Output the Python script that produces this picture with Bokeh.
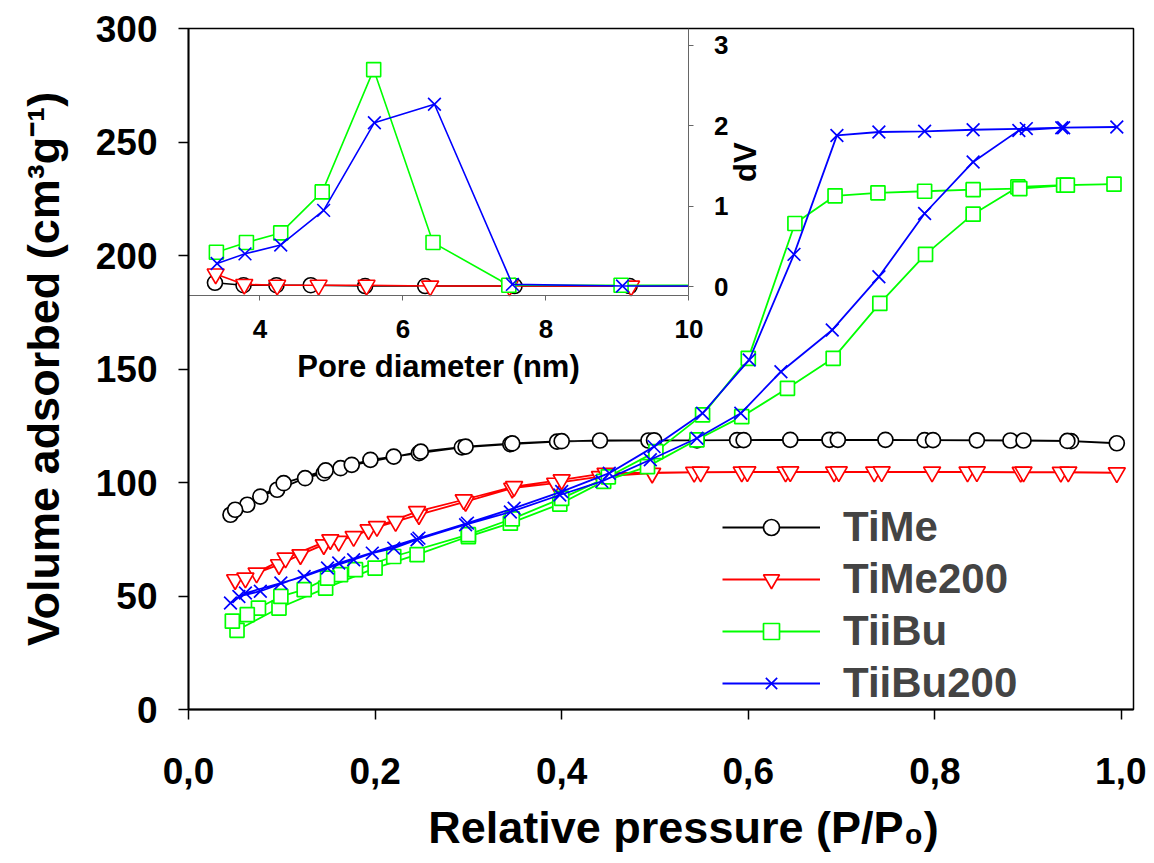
import math
from bokeh.plotting import figure
from bokeh.models import (Range1d, LinearAxis, FixedTicker, CustomJSTickFormatter,
                          Legend, LegendItem, Label)
from bokeh.embed import file_html
from bokeh.resources import INLINE

# ---------------- data: N2 isotherms (main plot) ----------------
series_names = ["TiMe", "TiMe200", "TiiBu", "TiiBu200"]
x_ticks = [0.0, 0.2, 0.4, 0.6, 0.8, 1.0]
y_ticks = [0, 50, 100, 150, 200, 250, 300]

time_ads_p = [0.045, 0.063, 0.077, 0.095, 0.125, 0.145, 0.163, 0.175, 0.195, 0.220, 0.247,
              0.293, 0.345, 0.395, 0.441, 0.493, 0.545, 0.588, 0.645, 0.687, 0.747, 0.789,
              0.845, 0.881, 0.946, 0.995]
time_ads_v = [85.8, 90.2, 93.8, 96.8, 101.9, 104.1, 106.3, 107.8, 110.0, 111.4, 112.9,
              115.5, 116.9, 118.0, 118.5, 118.5, 118.6, 118.7, 118.8, 118.8, 118.8, 118.7,
              118.6, 118.5, 118.2, 117.3]
time_des_p = [0.942, 0.895, 0.798, 0.696, 0.595, 0.499, 0.400, 0.347, 0.297, 0.249, 0.147,
              0.102, 0.050]
time_des_v = [118.3, 118.5, 118.7, 118.8, 118.7, 118.6, 118.2, 117.2, 115.8, 113.6, 105.3,
              99.7, 88.0]

time200_ads_p = [0.050, 0.073, 0.097, 0.120, 0.145, 0.161, 0.193, 0.222, 0.247, 0.297, 0.347,
                 0.393, 0.441, 0.497, 0.542, 0.593, 0.640, 0.692, 0.735, 0.797, 0.835, 0.892,
                 0.935, 0.995]
time200_ads_v = [57.2, 60.1, 63.8, 68.2, 72.6, 74.1, 79.2, 82.8, 85.8, 91.6, 97.5,
                 99.7, 102.6, 104.1, 104.5, 104.6, 104.6, 104.6, 104.6, 104.6, 104.6, 104.5,
                 104.5, 104.3]
time200_des_p = [0.943, 0.895, 0.845, 0.743, 0.697, 0.645, 0.599, 0.549, 0.447, 0.400, 0.349,
                 0.295, 0.245, 0.202, 0.177, 0.152, 0.104, 0.061]
time200_des_v = [104.6, 104.6, 104.7, 104.7, 104.7, 104.7, 104.7, 104.6, 104.1, 101.2, 98.2,
                 92.4, 87.2, 80.6, 76.2, 74.8, 66.7, 57.9]

tiibu_ads_p = [0.052, 0.097, 0.147, 0.200, 0.245, 0.300, 0.345, 0.398, 0.445, 0.492, 0.545,
               0.593, 0.642, 0.691, 0.741, 0.790, 0.841, 0.889, 0.938, 0.992]
tiibu_ads_v = [34.9, 44.7, 53.5, 62.3, 68.2, 76.2, 82.1, 90.5, 100.5, 107.0, 118.8,
               129.0, 141.5, 154.7, 178.9, 200.5, 218.2, 230.2, 231.0, 231.4]
tiibu_des_p = [0.942, 0.891, 0.841, 0.789, 0.739, 0.693, 0.650, 0.600, 0.551, 0.501, 0.450,
               0.400, 0.347, 0.300, 0.220, 0.179, 0.163, 0.149, 0.124, 0.099, 0.075, 0.063,
               0.047]
tiibu_des_v = [231.0, 229.5, 229.0, 228.3, 227.6, 226.3, 214.1, 154.7, 129.8, 113.6, 102.5,
               93.0, 84.0, 77.0, 67.4, 61.6, 59.4, 57.9, 52.8, 49.8, 44.7, 41.8, 38.9]

tiibu200_ads_p = [0.045, 0.061, 0.099, 0.124, 0.149, 0.177, 0.197, 0.220, 0.245, 0.297, 0.345,
                  0.398, 0.443, 0.495, 0.545, 0.592, 0.635, 0.690, 0.740, 0.789, 0.841, 0.890,
                  0.938, 0.995]
tiibu200_ads_v = [46.9, 51.3, 55.7, 58.6, 62.3, 66.0, 68.9, 71.1, 74.8, 81.4, 87.0,
                  94.5, 100.5, 110.0, 119.5, 130.5, 148.8, 167.2, 190.6, 218.5, 241.2, 255.1,
                  256.3, 256.6]
tiibu200_des_p = [0.936, 0.898, 0.841, 0.789, 0.740, 0.695, 0.649, 0.601, 0.551, 0.499, 0.451,
                  0.400, 0.349, 0.299, 0.247, 0.161, 0.077, 0.054]
tiibu200_des_v = [256.3, 255.9, 255.4, 254.7, 254.4, 252.9, 200.5, 154.0, 130.5, 115.8, 104.1,
                  96.0, 88.7, 82.1, 75.5, 64.5, 52.1, 49.8]

# ---------------- data: pore size distribution (inset) ----------------
inset_x_ticks = [4, 6, 8, 10]
inset_y_ticks = [0, 1, 2, 3]
pore_time = [3.37, 3.77, 4.23, 4.71, 5.47, 6.31, 7.56, 9.17]
dv_time = [0.05, 0.02, 0.02, 0.02, 0.01, 0.01, 0.01, 0.01]
pore_time200 = [3.38, 3.78, 4.24, 4.82, 5.49, 6.38, 7.49, 9.19]
dv_time200 = [0.16, 0.03, 0.02, 0.02, 0.02, 0.01, 0.01, 0.01]
pore_tiibu = [3.39, 3.81, 4.29, 4.87, 5.59, 6.42, 7.48, 9.05]
dv_tiibu = [0.43, 0.55, 0.67, 1.18, 2.70, 0.55, 0.02, 0.02]
pore_tiibu200 = [3.40, 3.79, 4.29, 4.89, 5.60, 6.44, 7.53, 9.07]
dv_tiibu200 = [0.29, 0.41, 0.52, 0.95, 2.04, 2.27, 0.03, 0.01]
pore_edge = 10.0  # curves run on to the right edge of the inset

# ---------------- styles ----------------
colors = ["#000000", "#ff0000", "#00ff00", "#0000ff"]
markers = ["circle", "inverted_triangle", "square", "x"]
sizes = [15, 17, 14, 18]
FONT = "Liberation Sans"

p = figure(width=1146, height=855, output_backend="svg", toolbar_location=None,
           x_range=Range1d(0, 1.0129), y_range=Range1d(0, 300),
           min_border_left=188, min_border_right=13, min_border_top=28,
           min_border_bottom=145)
p.xgrid.visible = False
p.ygrid.visible = False
p.outline_line_color = "black"
p.outline_line_width = 1.5
p.background_fill_color = "white"
p.border_fill_color = "white"

xa = p.below[0]
ya = p.left[0]
xa.ticker = FixedTicker(ticks=x_ticks)
xa.formatter = CustomJSTickFormatter(code="return tick.toFixed(1).replace('.', ',')")
ya.ticker = FixedTicker(ticks=y_ticks)
for ax in (xa, ya):
    ax.major_tick_out = 10
    ax.major_tick_in = 0
    ax.minor_tick_line_color = None
    ax.axis_line_width = 1.8
    ax.axis_line_color = "black"
    ax.major_tick_line_width = 1.5
    ax.major_tick_line_color = "black"
    ax.major_label_text_font = FONT
    ax.major_label_text_font_style = "bold"
    ax.major_label_text_font_size = "37px"
    ax.major_label_text_color = "black"
    ax.axis_label_text_font = FONT
    ax.axis_label_text_font_style = "bold"
    ax.axis_label_text_font_size = "45px"
    ax.axis_label_text_color = "black"
xa.axis_label = "\u2003Relative pressure (P/P\u2080)"
ya.axis_label = "Volume adsorbed (cm\u00b3g\u207b\u00b9)"
xa.major_label_standoff = 38
xa.axis_label_standoff = 15
ya.major_label_standoff = 21
ya.axis_label_standoff = 24

# ---------------- main isotherms ----------------
main_sets = [
    (time_ads_p + time_des_p, time_ads_v + time_des_v),
    (time200_ads_p + time200_des_p, time200_ads_v + time200_des_v),
    (tiibu_ads_p + tiibu_des_p, tiibu_ads_v + tiibu_des_v),
    (tiibu200_ads_p + tiibu200_des_p, tiibu200_ads_v + tiibu200_des_v),
]
items = []
for name, (xs, ys), c, m, s in zip(series_names, main_sets, colors, markers, sizes):
    rl = p.line(xs, ys, line_color=c, line_width=1.8)
    rs = p.scatter(xs, ys, marker=m, size=s, line_color=c, fill_color="white",
                   line_width=1.7)
    items.append(LegendItem(label=name, renderers=[rl, rs]))

legend = Legend(items=items, location=(534, 2), glyph_width=98, glyph_height=40,
                label_height=40, spacing=4, padding=0, margin=0, label_standoff=23,
                label_text_font=FONT, label_text_font_style="bold",
                label_text_font_size="42px", border_line_color=None,
                background_fill_alpha=0)
p.add_layout(legend)

# ---------------- inset (pore size distribution) ----------------
p.extra_x_ranges = {"ix": Range1d(3, 16.217)}
p.extra_y_ranges = {"iy": Range1d(-5.254, 3.211)}

inset_sets = [(pore_time, dv_time), (pore_time200, dv_time200),
              (pore_tiibu, dv_tiibu), (pore_tiibu200, dv_tiibu200)]
for (xs, ys), c, m, s in zip(inset_sets, colors, markers, sizes):
    p.line(xs + [pore_edge], ys + [ys[-1]], line_color=c, line_width=1.6,
           x_range_name="ix", y_range_name="iy")
    p.scatter(xs, ys, marker=m, size=s, line_color=c, fill_color="white",
              line_width=1.6, x_range_name="ix", y_range_name="iy")

ib = LinearAxis(x_range_name="ix", y_range_name="iy", fixed_location=-0.11,
                bounds=(3, 10), ticker=FixedTicker(ticks=inset_x_ticks),
                axis_label="Pore diameter (nm)")
ir = LinearAxis(x_range_name="ix", y_range_name="iy", fixed_location=10,
                bounds=(-0.11, 3.211), ticker=FixedTicker(ticks=inset_y_ticks))
for ax in (ib, ir):
    ax.major_tick_out = 5
    ax.major_tick_in = 0
    ax.minor_tick_line_color = None
    ax.axis_line_color = "#666666"
    ax.axis_line_width = 1
    ax.major_tick_line_color = "#666666"
    ax.major_tick_line_width = 1
    ax.major_label_text_font = FONT
    ax.major_label_text_font_style = "bold"
    ax.major_label_text_font_size = "26px"
    ax.major_label_text_color = "black"
    ax.axis_label_text_font = FONT
    ax.axis_label_text_font_style = "bold"
    ax.axis_label_text_font_size = "31px"
    ax.axis_label_text_color = "black"
ib.major_label_standoff = 19
ib.axis_label_standoff = 8
ir.major_label_standoff = 20
p.add_layout(ib, "below")
p.add_layout(ir, "right")

# title of the inset's right (dV) axis, reading bottom to top
dv_title = Label(x=10, y=1.55, x_range_name="ix", y_range_name="iy", x_offset=57,
                 text="dV", angle=math.pi / 2, text_align="center",
                 text_baseline="middle", text_font=FONT, text_font_style="bold",
                 text_font_size="31px", text_color="black")
p.add_layout(dv_title)

open("out.html", "w").write(file_html(p, INLINE))
